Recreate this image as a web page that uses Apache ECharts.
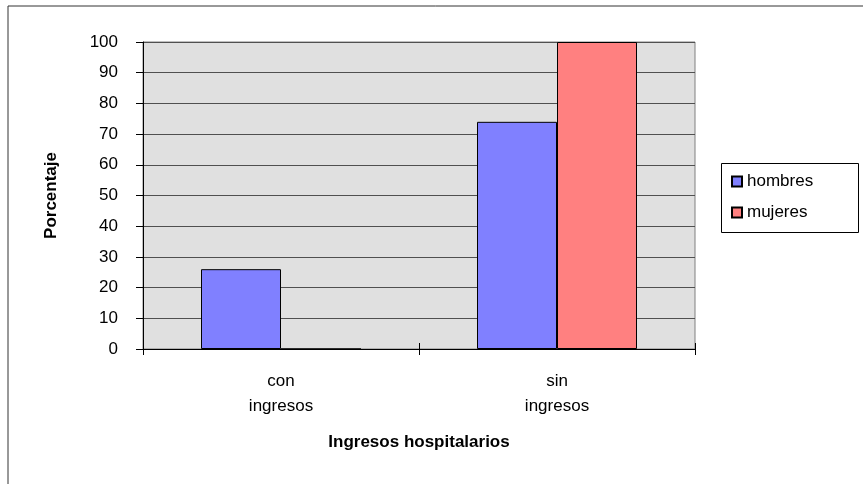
<!DOCTYPE html>
<html>
<head>
<meta charset="utf-8">
<script src="https://cdn.jsdelivr.net/npm/echarts@6/dist/echarts.min.js"></script>
<style>
html, body { margin: 0; padding: 0; background: #fff; }
#main { width: 863px; height: 484px; }
</style>
</head>
<body>
<div id="main"></div>
<script>
// datos
var categorias = ['con\ningresos', 'sin\ningresos'];
var hombres = [26, 74];
var mujeres = [0, 100];
var ticksY = [0, 10, 20, 30, 40, 50, 60, 70, 80, 90, 100];

var fuente = 'Liberation Sans';
var myChart = echarts.init(document.getElementById('main'));

var option = {
	backgroundColor: '#ffffff',
	animation: false,
	textStyle: { fontFamily: fuente, color: '#000' },
	grid: {
		left: 143, top: 42, right: 168, bottom: 135,
		show: true,
		backgroundColor: '#E0E0E0',
		borderColor: '#808080',
		borderWidth: 1
	},
	legend: {
		orient: 'vertical',
		left: 721, top: 163,
		padding: [10, 10, 10, 10],
		itemWidth: 10, itemHeight: 10,
		itemGap: 14,
		itemTextGap: 3,
		icon: 'rect',
		textStyle: { fontFamily: fuente, fontSize: 17, color: '#000' },
		data: ['hombres', 'mujeres']
	},
	xAxis: [{
		type: 'category',
		data: categorias,
		name: 'Ingresos hospitalarios',
		nameLocation: 'middle',
		nameGap: 85,
		nameTextStyle: { fontFamily: fuente, fontSize: 17, fontWeight: 'bold', color: '#000' },
		axisLine: { lineStyle: { color: '#000', width: 1 } },
		axisTick: { show: true, length: 6, alignWithLabel: false, lineStyle: { color: '#000' } },
		axisLabel: { fontFamily: fuente, fontSize: 17, color: '#000', lineHeight: 25, margin: 20 }
	}, {
		// marcas hacia dentro (cruzadas, como en Excel)
		type: 'category',
		data: categorias,
		position: 'bottom',
		axisLine: { show: false },
		axisTick: { show: true, inside: true, length: 6, lineStyle: { color: '#000' } },
		axisLabel: { show: false }
	}],
	yAxis: {
		type: 'value',
		min: ticksY[0],
		max: ticksY[ticksY.length - 1],
		interval: 10,
		name: 'Porcentaje',
		nameLocation: 'middle',
		nameGap: 83,
		nameTextStyle: { fontFamily: fuente, fontSize: 17, fontWeight: 'bold', color: '#000' },
		axisLine: { show: true, lineStyle: { color: '#000', width: 1 } },
		axisTick: { show: true, length: 7, lineStyle: { color: '#000' } },
		axisLabel: { fontFamily: fuente, fontSize: 17, color: '#000', margin: 25 },
		splitLine: { show: true, lineStyle: { color: '#505050', width: 1 } }
	},
	series: [{
		name: 'hombres',
		type: 'bar',
		data: hombres,
		barWidth: 80,
		barGap: '0%',
		itemStyle: { color: '#8080FF', borderColor: '#000', borderWidth: 1 }
	}, {
		name: 'mujeres',
		type: 'bar',
		data: mujeres,
		barWidth: 80,
		barGap: '0%',
		itemStyle: { color: '#FF8080', borderColor: '#000', borderWidth: 1 }
	}],
	graphic: [
		// borde exterior (solo arriba e izquierda visibles)
		{ type: 'line', shape: { x1: 8, y1: 6, x2: 863, y2: 6 }, style: { stroke: '#333', lineWidth: 1 } },
		{ type: 'line', shape: { x1: 8, y1: 6, x2: 8, y2: 484 }, style: { stroke: '#333', lineWidth: 1 } },
		// caja de la leyenda
		{ type: 'rect', z: -1, shape: { x: 721.5, y: 163.5, width: 137, height: 69 }, style: { fill: '#fff', stroke: '#000', lineWidth: 1 } }
	]
};

myChart.setOption(option);
</script>
</body>
</html>
